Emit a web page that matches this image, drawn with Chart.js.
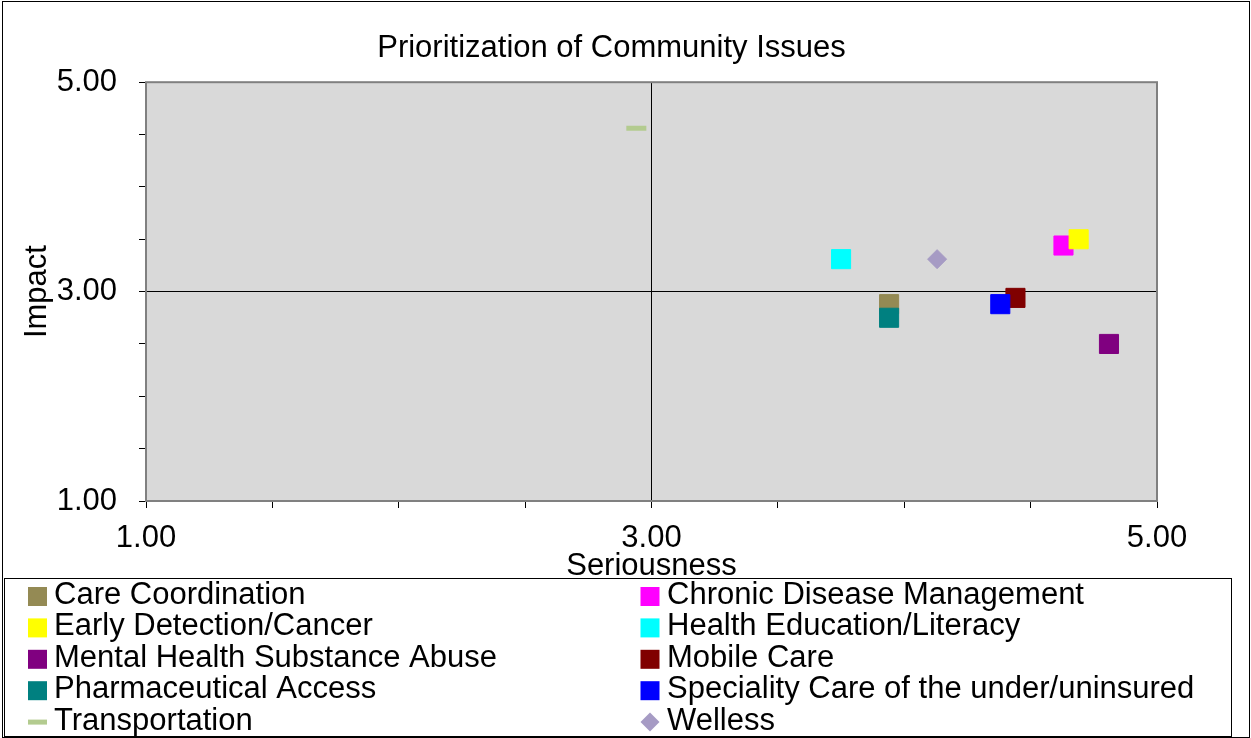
<!DOCTYPE html>
<html>
<head>
<meta charset="utf-8">
<script src="https://cdn.jsdelivr.net/npm/chart.js@4/dist/chart.umd.min.js"></script>
<style>
  html, body { margin: 0; padding: 0; background: #ffffff; }
  #wrap { width: 1251px; height: 738px; }
</style>
</head>
<body>
<div id="wrap"><canvas id="c" width="1251" height="738"></canvas></div>
<script>
// ---- data ----
const categories = [
  'Care Coordination',
  'Chronic Disease Management',
  'Early Detection/Cancer',
  'Health Education/Literacy',
  'Mental Health Substance Abuse',
  'Mobile Care',
  'Pharmaceutical Access',
  'Speciality Care of the under/uninsured',
  'Transportation',
  'Welless'
];
const seriousness = [3.94, 4.63, 4.69, 3.75, 4.81, 4.44, 3.94, 4.38, 2.94, 4.13];
const impact      = [2.88, 3.44, 3.50, 3.31, 2.50, 2.94, 2.75, 2.88, 4.56, 3.31];
const labeledTicks = [1, 3, 5];
const chartTitle = 'Prioritization of Community Issues';
const xTitle = 'Seriousness';
const yTitle = 'Impact';

// ---- styles ----
const colors = ['#948a54', '#ff00ff', '#ffff00', '#00ffff', '#800080', '#800000', '#008080', '#0000ff', '#b3cb8f', '#a69bc4'];
const shapes = ['rect', 'rect', 'rect', 'rect', 'rect', 'rect', 'rect', 'rect', 'line', 'rectRot'];
const FONT = '"Liberation Sans", Arial, sans-serif';
const FS = 31;
Chart.defaults.font.family = FONT;
Chart.defaults.color = '#000000';

const datasets = categories.map((name, i) => ({
  label: name,
  data: [{ x: seriousness[i], y: impact[i] }],
  yAxisID: 'y',
  pointStyle: shapes[i],
  pointRadius: shapes[i] === 'rect' ? 13.5 : (shapes[i] === 'line' ? 10 : 9.5),
  pointHoverRadius: shapes[i] === 'rect' ? 13.5 : 10,
  backgroundColor: colors[i],
  borderColor: colors[i],
  borderWidth: shapes[i] === 'line' ? 5 : 1,
  order: categories.length - i
}));

const gridColor = (ctx) => (ctx.tick && ctx.tick.value === 3 ? '#000000' : 'rgba(0,0,0,0)');
const tickLabel = (v) => (labeledTicks.includes(v) ? Number(v).toFixed(2) : '');

const framePlugin = {
  id: 'frame',
  beforeDraw(chart) {
    const { ctx, chartArea: a, width, height } = chart;
    ctx.save();
    ctx.fillStyle = '#ffffff';
    ctx.fillRect(0, 0, width, height);
    ctx.fillStyle = '#d9d9d9';
    ctx.fillRect(a.left, a.top, a.right - a.left, a.bottom - a.top);
    ctx.restore();
  },
  afterDraw(chart) {
    const { ctx, chartArea: a, width, height } = chart;
    ctx.save();
    // plot border
    ctx.strokeStyle = '#808080';
    ctx.lineWidth = 2;
    ctx.strokeRect(a.left, a.top, a.right - a.left, a.bottom - a.top);
    // outer border
    ctx.strokeStyle = '#000000';
    ctx.lineWidth = 1;
    ctx.strokeRect(2.5, 1.5, width - 4, height - 2);
    // legend box
    const lx = 4.5, ly = 578.5, lw = 1227, lh = 158;
    ctx.strokeStyle = '#000000';
    ctx.strokeRect(lx, ly, lw, lh);
    // legend items (2 columns, row-major)
    ctx.font = FS + 'px ' + FONT;
    ctx.textBaseline = 'middle';
    ctx.textAlign = 'left';
    const colSwatch = [37.5, 650];
    const colText = [54, 667];
    categories.forEach((name, i) => {
      const col = i % 2, row = Math.floor(i / 2);
      const cy = 595.5 + row * 31.4;
      const sx = colSwatch[col], sy = cy + 1;
      ctx.fillStyle = colors[i];
      ctx.strokeStyle = colors[i];
      if (shapes[i] === 'rect') {
        ctx.fillRect(sx - 9.5, sy - 9.5, 19, 19);
      } else if (shapes[i] === 'line') {
        ctx.lineWidth = 5;
        ctx.beginPath();
        ctx.moveTo(sx - 9.5, sy);
        ctx.lineTo(sx + 9.5, sy);
        ctx.stroke();
      } else {
        ctx.beginPath();
        ctx.moveTo(sx - 9.5, sy);
        ctx.lineTo(sx, sy - 9.5);
        ctx.lineTo(sx + 9.5, sy);
        ctx.lineTo(sx, sy + 9.5);
        ctx.closePath();
        ctx.fill();
      }
      ctx.fillStyle = '#000000';
      ctx.fillText(name, colText[col], cy);
    });
    ctx.restore();
  }
};

new Chart(document.getElementById('c'), {
  type: 'scatter',
  data: { datasets },
  plugins: [framePlugin],
  options: {
    responsive: false,
    animation: false,
    devicePixelRatio: 1,
    layout: { padding: { top: 0, left: 0, right: 28, bottom: 160 } },
    plugins: {
      legend: { display: false },
      tooltip: { enabled: false },
      title: {
        display: true,
        text: chartTitle,
        color: '#000000',
        font: { size: FS, weight: 'normal', family: FONT, lineHeight: 1.2 },
        padding: { top: 30, bottom: 15 }
      }
    },
    scales: {
      x: {
        type: 'linear',
        position: 'bottom',
        min: 1, max: 5,
        afterFit(scale) { scale.height = 77; },
        ticks: {
          stepSize: 0.5,
          autoSkip: false,
          maxRotation: 0,
          padding: 12,
          color: '#000000',
          font: { size: FS, family: FONT, lineHeight: 1.2 },
          callback: tickLabel
        },
        grid: { color: gridColor, tickColor: '#000000', tickLength: 7, lineWidth: 1 },
        border: { display: false },
        title: {
          display: true,
          text: xTitle,
          color: '#000000',
          font: { size: FS, family: FONT, lineHeight: 1.2 },
          padding: { top: 0, bottom: -6.6 }
        }
      },
      y: {
        type: 'linear',
        position: 'left',
        min: 1, max: 5,
        afterFit(scale) { scale.width = 146; },
        ticks: {
          stepSize: 0.5,
          autoSkip: false,
          padding: 22,
          color: '#000000',
          font: { size: FS, family: FONT, lineHeight: 1.2 },
          callback: tickLabel
        },
        grid: { color: gridColor, tickColor: '#000000', tickLength: 7, lineWidth: 1 },
        border: { display: false },
        title: {
          display: true,
          text: yTitle,
          color: '#000000',
          font: { size: FS, family: FONT, lineHeight: 1.2 },
          padding: { top: 19, bottom: 0 }
        }
      },
      ySpacer: {
        type: 'linear',
        position: 'right',
        display: true,
        min: 1, max: 5,
        afterFit(scale) { scale.width = 66; },
        ticks: { display: false },
        grid: { display: false, drawTicks: false },
        border: { display: false },
        title: { display: false }
      }
    }
  }
});
</script>
</body>
</html>
